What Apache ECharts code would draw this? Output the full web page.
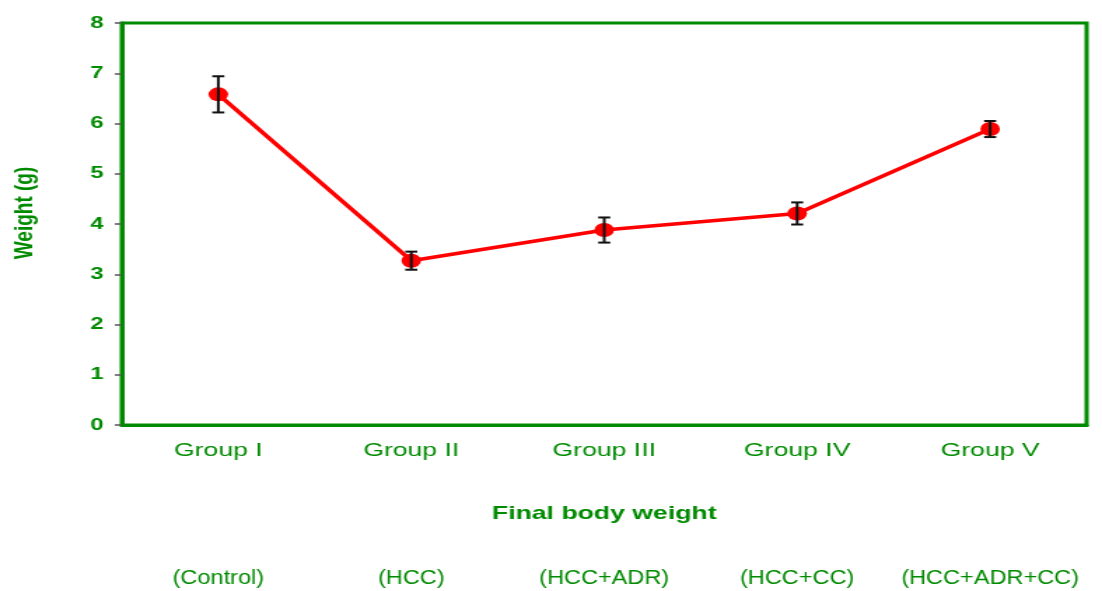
<!DOCTYPE html>
<html>
<head>
<meta charset="utf-8">
<script src="https://cdn.jsdelivr.net/npm/echarts@6/dist/echarts.min.js"></script>
<style>
  html, body { margin: 0; padding: 0; background: #fff; overflow: hidden; }
  /* the figure is drawn narrow and widened horizontally, like the original export */
  #chart { width: 787px; height: 591px; transform: scaleX(1.40025); transform-origin: 0 0; }
</style>
</head>
<body>
<div id="chart"></div>
<script>
// Final body weight per group (mean ± error)
const groups = ['Group I', 'Group II', 'Group III', 'Group IV', 'Group V'];
const treatments = ['(Control)', '(HCC)', '(HCC+ADR)', '(HCC+CC)', '(HCC+ADR+CC)'];
const meanWeight = [6.58, 3.27, 3.88, 4.21, 5.89];
const errWeight = [0.36, 0.18, 0.25, 0.22, 0.16];
const yTicks = [0, 1, 2, 3, 4, 5, 6, 7, 8];

const GREEN = '#008a00';
const FONT = 'Liberation Sans, Arial, sans-serif';

const errorData = meanWeight.map((m, i) => [i, m - errWeight[i], m + errWeight[i]]);

const chart = echarts.init(document.getElementById('chart'));
chart.setOption({
  animation: false,
  grid: {
    left: 86, right: 11, top: 23, bottom: 166,
    show: true, borderColor: GREEN, borderWidth: 3, backgroundColor: '#fff'
  },
  xAxis: {
    type: 'category',
    data: groups,
    boundaryGap: true,
    axisLine: { show: true, lineStyle: { color: GREEN, width: 3 } },
    axisTick: { show: false },
    axisLabel: { color: GREEN, fontFamily: FONT, fontSize: 19, margin: 16 },
    name: 'Final body weight',
    nameLocation: 'middle',
    nameGap: 79,
    nameTextStyle: { color: GREEN, fontFamily: FONT, fontWeight: 'bold', fontSize: 19 }
  },
  yAxis: {
    type: 'value',
    min: yTicks[0], max: yTicks[yTicks.length - 1], interval: 1,
    axisLine: { show: true, lineStyle: { color: GREEN, width: 3 } },
    axisTick: { show: true, inside: false, length: 5, lineStyle: { color: '#555', width: 1.5 } },
    splitLine: { show: false },
    axisLabel: { color: GREEN, fontFamily: FONT, fontWeight: 'bold', fontSize: 17, margin: 13 },
    name: 'Weight (g)',
    nameLocation: 'middle',
    nameGap: 60,
    nameTextStyle: { color: GREEN, fontFamily: FONT, fontWeight: 'bold', fontSize: 19, padding: [0, 0, 0, 22] }
  },
  series: [{
    type: 'line',
    data: meanWeight,
    symbol: 'circle',
    symbolSize: 14,
    lineStyle: { color: '#ff0000', width: 3.5 },
    itemStyle: { color: '#ff0000' },
    z: 2
  }, {
    type: 'custom',
    data: errorData,
    z: 3,
    renderItem: function (params, api) {
      const x = api.value(0);
      const lo = api.coord([x, api.value(1)]);
      const hi = api.coord([x, api.value(2)]);
      const half = 4.3;
      const style = { stroke: '#111', lineWidth: 2 };
      return {
        type: 'group',
        children: [
          { type: 'line', shape: { x1: hi[0], y1: hi[1], x2: lo[0], y2: lo[1] }, style: style },
          { type: 'line', shape: { x1: hi[0] - half, y1: hi[1], x2: hi[0] + half, y2: hi[1] }, style: style },
          { type: 'line', shape: { x1: lo[0] - half, y1: lo[1], x2: lo[0] + half, y2: lo[1] }, style: style }
        ]
      };
    },
    encode: { x: 0, y: [1, 2] }
  }]
});

// treatment captions under each group, narrowed to a condensed look
const captionY = chart.convertToPixel({ yAxisIndex: 0 }, 0) + 153;
chart.setOption({
  graphic: treatments.map((t, i) => ({
    type: 'text',
    x: chart.convertToPixel({ xAxisIndex: 0 }, groups[i]),
    y: captionY,
    scaleX: 0.8,
    style: {
      text: t, fill: GREEN, font: '21px ' + FONT,
      align: 'center', verticalAlign: 'middle'
    }
  }))
});
</script>
</body>
</html>
